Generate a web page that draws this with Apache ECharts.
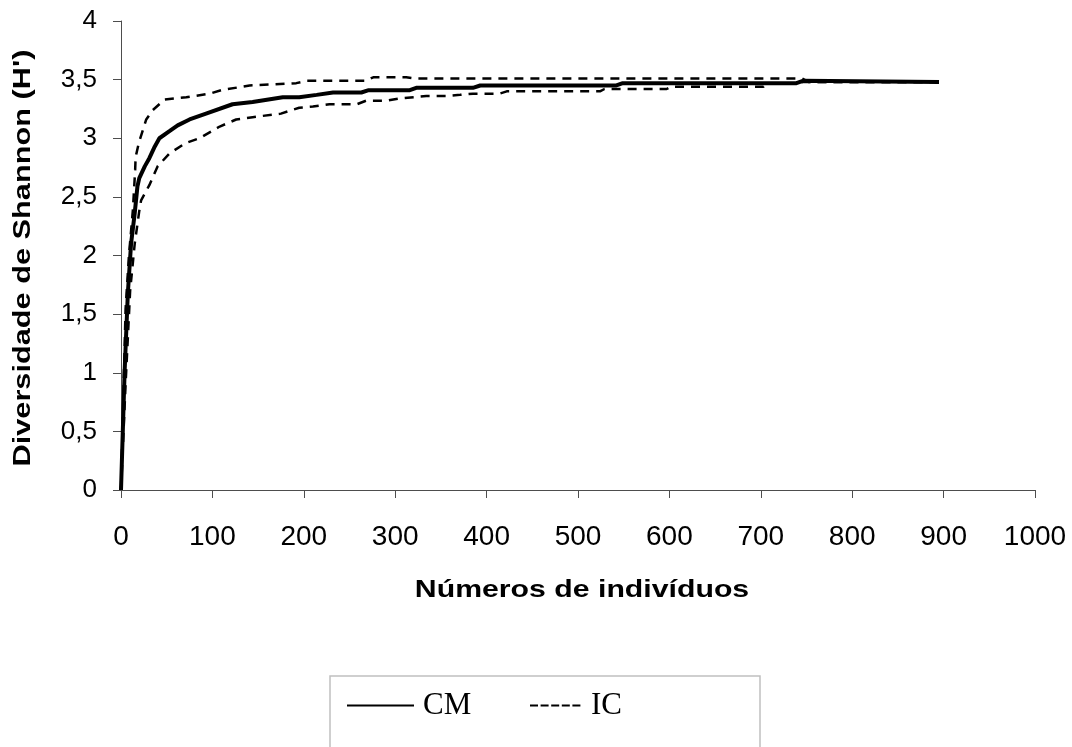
<!DOCTYPE html>
<html>
<head>
<meta charset="utf-8">
<script src="https://cdn.jsdelivr.net/npm/echarts@6/dist/echarts.min.js"></script>
<style>
html,body{margin:0;padding:0;background:#fff;}
#chart{width:1072px;height:747px;}
</style>
</head>
<body>
<div id="chart"></div>
<script>
// ---- data ----
const xTicks = [0, 100, 200, 300, 400, 500, 600, 700, 800, 900, 1000];
const yTicks = [0, 0.5, 1, 1.5, 2, 2.5, 3, 3.5, 4];

const cmX = [0, 4, 7.5, 11, 15, 18, 20, 26, 31, 37, 42, 53, 62, 75, 93, 122, 144, 177, 195, 214, 232, 263, 271, 316, 323, 385, 393, 542, 549, 739, 746, 895];
const cmY = [0, 1.02, 1.68, 2.10, 2.36, 2.59, 2.66, 2.76, 2.83, 2.93, 3.00, 3.06, 3.11, 3.16, 3.21, 3.29, 3.31, 3.35, 3.35, 3.37, 3.39, 3.39, 3.41, 3.41, 3.43, 3.43, 3.45, 3.45, 3.47, 3.47, 3.49, 3.48];

const icUpperX = [0, 5, 8.6, 13, 15.5, 16, 19.5, 27.6, 34.8, 47.6, 71.4, 96.9, 109.7, 140.7, 191.8, 203, 230, 268, 276, 312, 322, 745, 752, 895];
const icUpperY = [0, 1.54, 1.99, 2.39, 2.73, 2.84, 2.96, 3.16, 3.24, 3.33, 3.35, 3.38, 3.41, 3.45, 3.47, 3.49, 3.49, 3.49, 3.52, 3.52, 3.51, 3.51, 3.48, 3.48];

const icLowerX = [0, 5, 10, 15, 20, 22, 31, 40, 53, 71, 86, 108, 126, 144, 175, 195, 210, 228, 258, 268, 290, 305, 334, 356, 371, 385, 414, 422, 524, 529, 597, 602, 703, 707, 740, 746, 895];
const icLowerY = [0, 0.9, 1.7, 2.1, 2.38, 2.47, 2.60, 2.76, 2.87, 2.96, 3.00, 3.10, 3.16, 3.18, 3.21, 3.26, 3.27, 3.29, 3.29, 3.32, 3.32, 3.34, 3.36, 3.36, 3.37, 3.38, 3.38, 3.40, 3.40, 3.42, 3.42, 3.44, 3.44, 3.47, 3.47, 3.48, 3.48];

const seriesNames = ['CM', 'IC'];
const xTitle = 'Números de indivíduos';
const yTitle = "Diversidade de Shannon (H')";

// ---- build ----
const zip = (xs, ys) => xs.map((x, i) => [x, ys[i]]);
const chart = echarts.init(document.getElementById('chart'), null, {renderer: 'canvas'});

const axisColor = '#4d4d4d';
const hiddenSymbol = {color: 'rgba(0,0,0,0)', borderColor: 'rgba(0,0,0,0)', borderWidth: 0};
const option = {
  backgroundColor: '#ffffff',
  animation: false,
  grid: {left: 121, right: 37, top: 21, bottom: 257, containLabel: false},
  xAxis: {
    type: 'value',
    min: xTicks[0], max: xTicks[xTicks.length - 1], interval: xTicks[1] - xTicks[0],
    axisLine: {show: true, onZero: false, lineStyle: {color: axisColor, width: 1}},
    axisTick: {show: true, inside: false, length: 8, lineStyle: {color: axisColor, width: 1}},
    splitLine: {show: false},
    axisLabel: {margin: 33, color: '#000', fontFamily: 'Liberation Sans', fontSize: 28, formatter: v => String(v)}
  },
  yAxis: {
    type: 'value',
    min: yTicks[0], max: yTicks[yTicks.length - 1], interval: yTicks[1] - yTicks[0],
    axisLine: {show: true, lineStyle: {color: axisColor, width: 1}},
    axisTick: {show: true, inside: false, length: 8, lineStyle: {color: axisColor, width: 1}},
    splitLine: {show: false},
    axisLabel: {
      margin: 24, color: '#000', fontFamily: 'Liberation Sans', fontSize: 26,
      formatter: v => String(v).replace('.', ',')
    }
  },
  legend: [
    {
      data: [seriesNames[0]], left: 346, top: 690, padding: 0, itemGap: 0,
      itemWidth: 67, itemHeight: 14,
      itemStyle: hiddenSymbol,
      lineStyle: {width: 2, type: 'solid', color: '#000'},
      textStyle: {color: '#000', fontFamily: 'Liberation Serif', fontSize: 31, padding: [0, 0, 0, 4]}
    },
    {
      data: [seriesNames[1]], left: 529, top: 690, padding: 0, itemGap: 0,
      itemWidth: 51, itemHeight: 14,
      itemStyle: hiddenSymbol,
      lineStyle: {width: 2, type: [8, 2.6], color: '#000'},
      textStyle: {color: '#000', fontFamily: 'Liberation Serif', fontSize: 31, padding: [0, 0, 0, 5]}
    }
  ],
  graphic: [
    {
      type: 'rect', silent: true,
      shape: {x: 330, y: 676, width: 430, height: 200},
      style: {fill: 'none', stroke: '#c0c0c0', lineWidth: 1.5}
    },
    {
      type: 'text', silent: true, x: 582, y: 590, scaleX: 1.26, scaleY: 1,
      style: {text: xTitle, font: 'bold 24px "Liberation Sans"', fill: '#000', textAlign: 'center', textVerticalAlign: 'middle'}
    },
    {
      type: 'text', silent: true, x: 23, y: 258, rotation: Math.PI / 2, scaleX: 1.28, scaleY: 1,
      style: {text: yTitle, font: 'bold 24px "Liberation Sans"', fill: '#000', textAlign: 'center', textVerticalAlign: 'middle'}
    }
  ],
  series: [
    {
      name: seriesNames[1], type: 'line', data: zip(icUpperX, icUpperY),
      symbol: 'none', showSymbol: false, z: 3,
      lineStyle: {color: '#000', width: 2.5, type: [9, 7]}, itemStyle: {color: '#000'}
    },
    {
      name: seriesNames[1], type: 'line', data: zip(icLowerX, icLowerY),
      symbol: 'none', showSymbol: false, z: 3,
      lineStyle: {color: '#000', width: 2.5, type: [9, 7]}, itemStyle: {color: '#000'}
    },
    {
      name: seriesNames[0], type: 'line', data: zip(cmX, cmY),
      symbol: 'none', showSymbol: false, z: 2,
      lineStyle: {color: '#000', width: 4}, itemStyle: {color: '#000'}
    }
  ]
};
chart.setOption(option);
</script>
</body>
</html>
